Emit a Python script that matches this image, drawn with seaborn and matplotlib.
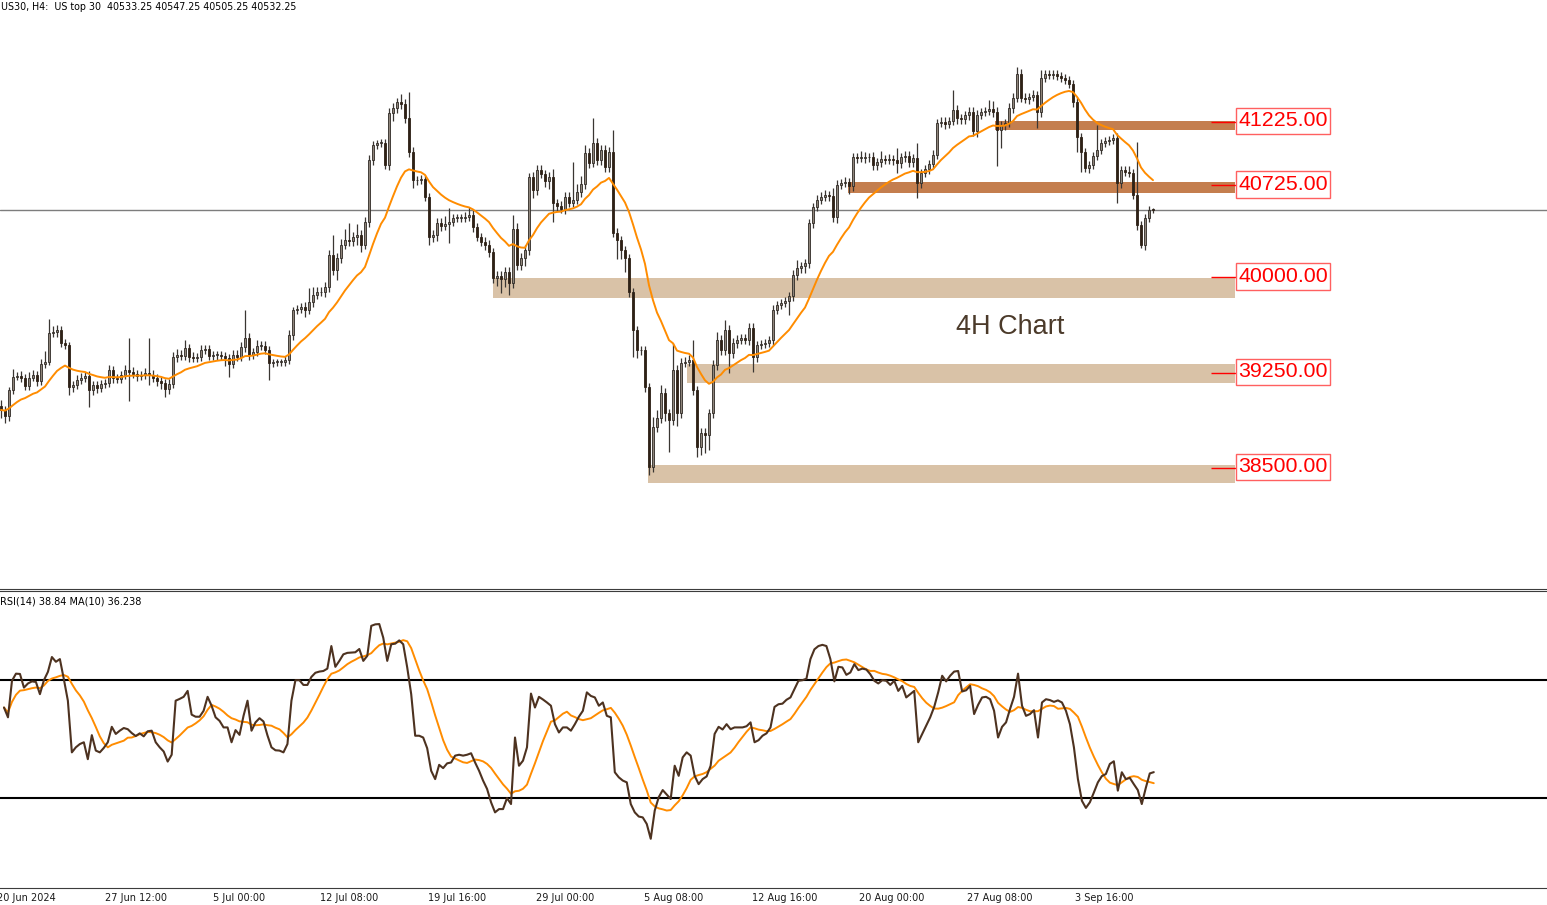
import numpy as np
import pandas as pd
import matplotlib
matplotlib.use("Agg")
import matplotlib.pyplot as plt
import matplotlib.transforms as mtransforms
from matplotlib.patches import Rectangle
from matplotlib import font_manager
import seaborn as sns

# ---------------- data (US30, H4) ----------------
closes = [
    38955, 38908, 39112, 39215, 39223, 39207, 39144, 39207, 39231, 39183,
    39317, 39333, 39561, 39569, 39585, 39483, 39467, 39136, 39152, 39191,
    39207, 39223, 39112, 39152, 39128, 39160, 39167, 39270, 39207, 39199,
    39231, 39270, 39254, 39238, 39223, 39231, 39246, 39231, 39207, 39183,
    39167, 39120, 39160, 39372, 39388, 39380, 39443, 39372, 39364, 39372,
    39427, 39435, 39380, 39388, 39388, 39380, 39364, 39317, 39388, 39372,
    39451, 39522, 39388, 39412, 39459, 39459, 39427, 39325, 39333, 39333,
    39333, 39349, 39546, 39742, 39750, 39766, 39742, 39805, 39861, 39884,
    39884, 39924, 40176, 40057, 40152, 40254, 40294, 40286, 40317, 40333,
    40254, 40436, 40924, 41042, 41058, 41058, 40884, 41294, 41333, 41381,
    41365, 41255, 40987, 40766, 40766, 40774, 40632, 40317, 40333, 40428,
    40404, 40420, 40436, 40467, 40467, 40467, 40475, 40491, 40396, 40317,
    40278, 40254, 40199, 39994, 40010, 39987, 40042, 39955, 40380, 40097,
    40152, 40215, 40790, 40688, 40845, 40814, 40758, 40790, 40585, 40562,
    40538, 40632, 40585, 40609, 40672, 40735, 40979, 40900, 41058, 40924,
    41003, 40869, 40987, 40349, 40294, 40215, 40152, 39884, 39585, 39427,
    39427, 39136, 38506, 38821, 38892, 39089, 38931, 38876, 39270, 38931,
    39325, 39333, 39349, 39112, 38663, 38774, 38758, 38931, 39309, 39506,
    39427, 39585, 39404, 39483, 39506, 39522, 39506, 39601, 39372, 39467,
    39475, 39483, 39506, 39742, 39782, 39798, 39813, 39853, 40018, 40073,
    40089, 40113, 40428, 40554, 40609, 40632, 40648, 40640, 40475, 40727,
    40743, 40751, 40719, 40947, 40940, 40940, 40947, 40947, 40884, 40908,
    40932, 40924, 40932, 40924, 40900, 40947, 40955, 40908, 40940, 40743,
    40821, 40853, 40892, 40963, 41215, 41223, 41207, 41231, 41318, 41255,
    41247, 41278, 41302, 41152, 41278, 41302, 41310, 41326, 41302, 41160,
    41200, 41215, 41333, 41412, 41601, 41412, 41404, 41420, 41436, 41302,
    41570, 41601, 41593, 41601, 41585, 41570, 41554, 41522, 41381, 41105,
    40987, 40861, 40884, 40955, 41003, 41058, 41074, 41081, 41097, 40743,
    40845, 40829, 40821, 40648, 40412, 40254, 40467, 40533.25, 40532.25,
]
first_open = 38990

upper_wick = [
    40, 30, 25, 60, 35, 40, 30, 45, 40, 30,
    40, 90, 110, 50, 40, 30, 30, 20, 30, 40,
    40, 30, 40, 30, 35, 30, 30, 40, 30, 30,
    30, 40, 250, 40, 35, 30, 40, 275, 35, 30,
    30, 30, 40, 40, 50, 40, 60, 35, 40, 30,
    40, 35, 30, 30, 35, 30, 30, 30, 40, 40,
    40, 220, 40, 35, 50, 40, 40, 30, 20, 20,
    20, 30, 40, 25, 30, 30, 40, 110, 60, 40,
    40, 40, 40, 160, 40, 50, 90, 135, 40, 90,
    40, 35, 40, 30, 25, 30, 30, 40, 40, 30,
    60, 40, 205, 40, 30, 30, 30, 30, 40, 40,
    40, 60, 110, 30, 30, 30, 40, 65, 40, 30,
    30, 40, 40, 30, 40, 40, 40, 40, 110, 50,
    40, 40, 30, 40, 40, 40, 30, 40, 60, 30,
    40, 40, 40, 300, 60, 60, 60, 40, 200, 40,
    40, 40, 40, 175, 40, 30, 30, 30, 30, 30,
    30, 30, 30, 80, 60, 60, 40, 30, 210, 40,
    40, 40, 40, 160, 30, 40, 40, 30, 40, 60,
    40, 80, 40, 40, 40, 30, 30, 40, 40, 30,
    30, 30, 30, 40, 30, 30, 30, 30, 40, 60,
    30, 30, 30, 30, 40, 40, 40, 30, 60, 40,
    30, 40, 30, 30, 30, 55, 40, 30, 40, 30,
    60, 30, 40, 30, 95, 30, 40, 40, 30, 120,
    30, 30, 30, 40, 30, 40, 40, 30, 160, 40,
    30, 30, 40, 40, 40, 30, 30, 70, 60, 40,
    30, 30, 40, 40, 55, 40, 40, 30, 40, 30,
    60, 30, 30, 30, 30, 30, 30, 30, 30, 40,
    30, 30, 30, 30, 200, 30, 30, 30, 30, 40,
    30, 30, 50, 30, 420, 30, 30, 30, 14,
]
lower_wick = [
    60, 55, 40, 30, 25, 30, 35, 30, 25, 40,
    30, 30, 25, 30, 40, 30, 30, 60, 40, 35,
    30, 35, 135, 40, 40, 35, 30, 30, 40, 30,
    30, 35, 230, 35, 40, 30, 30, 80, 35, 40,
    45, 60, 40, 30, 40, 35, 30, 40, 35, 30,
    30, 30, 35, 30, 40, 30, 60, 100, 30, 35,
    30, 40, 40, 35, 30, 30, 30, 135, 30, 30,
    30, 30, 30, 40, 30, 30, 55, 30, 40, 30,
    30, 40, 40, 40, 80, 40, 30, 40, 40, 60,
    55, 30, 40, 40, 30, 30, 30, 40, 60, 40,
    40, 40, 40, 60, 40, 30, 30, 65, 40, 50,
    40, 30, 150, 30, 30, 30, 30, 30, 40, 35,
    30, 40, 40, 40, 60, 110, 60, 95, 40, 40,
    40, 60, 40, 60, 40, 30, 50, 60, 150, 40,
    30, 40, 30, 30, 30, 40, 40, 40, 30, 40,
    40, 40, 40, 30, 150, 70, 110, 40, 210, 60,
    40, 40, 60, 40, 40, 40, 60, 250, 40, 100,
    40, 30, 30, 40, 80, 60, 140, 120, 40, 40,
    40, 40, 160, 40, 40, 30, 30, 40, 120, 40,
    30, 30, 30, 40, 30, 30, 30, 110, 40, 40,
    40, 55, 40, 40, 30, 30, 30, 40, 40, 50,
    30, 30, 60, 40, 40, 30, 40, 40, 40, 40,
    40, 30, 30, 40, 80, 40, 40, 40, 40, 120,
    40, 30, 40, 30, 30, 30, 40, 30, 30, 50,
    40, 40, 40, 40, 50, 30, 30, 30, 40, 280,
    140, 40, 30, 40, 30, 30, 30, 40, 30, 125,
    40, 30, 30, 30, 30, 30, 30, 30, 40, 120,
    160, 30, 40, 30, 30, 30, 30, 30, 30, 160,
    40, 30, 30, 30, 40, 20, 40, 30, 27,
]

rsi14 = [
    60.6, 57.3, 69.6, 72.0, 71.9, 67.3, 68.7, 69.4, 69.2, 65.1,
    69.8, 72.6, 77.6, 76.0, 76.9, 70.1, 62.9, 45.5, 47.2, 48.3,
    48.9, 43.2, 51.3, 46.1, 45.5, 47.0, 48.9, 54.1, 51.7, 52.8,
    53.7, 53.3, 52.0, 51.0, 51.9, 50.9, 52.6, 52.8, 48.9, 47.2,
    45.8, 42.4, 44.7, 62.9, 63.5, 64.2, 66.2, 58.2, 57.5, 57.5,
    59.5, 64.2, 61.2, 57.3, 56.1, 53.9, 53.9, 48.9, 53.0, 51.4,
    57.8, 62.9, 52.8, 55.6, 57.0, 55.9, 51.2, 47.2, 46.2, 46.1,
    45.5, 48.3, 62.9, 69.8, 69.8, 68.2, 68.2, 70.9, 72.3, 72.7,
    72.9, 73.7, 81.3, 74.3, 76.3, 78.5, 79.0, 79.1, 79.2, 80.3,
    76.3, 78.0, 88.1, 88.6, 88.7, 84.1, 76.3, 81.9, 82.1, 83.2,
    81.9, 74.1, 65.1, 51.1, 51.1, 50.5, 46.9, 39.3, 36.5, 41.3,
    40.2, 41.8, 42.1, 44.4, 44.7, 44.4, 44.7, 45.2, 42.1, 39.3,
    36.0, 33.2, 28.7, 25.3, 26.4, 26.4, 30.1, 28.1, 50.5, 41.0,
    42.7, 47.2, 65.3, 60.6, 64.2, 63.3, 62.3, 61.2, 55.0, 52.2,
    53.9, 53.9, 52.8, 55.0, 57.5, 59.5, 65.7, 64.5, 64.0, 61.2,
    62.3, 57.8, 57.3, 38.8, 37.1, 36.0, 35.4, 28.1, 25.3, 23.9,
    23.6, 21.4, 16.4, 25.9, 30.4, 32.8, 31.3, 29.8, 41.0, 37.6,
    43.8, 45.5, 44.4, 37.6, 34.8, 36.5, 37.4, 41.0, 51.7, 54.1,
    53.2, 55.0, 53.3, 53.9, 53.9, 53.9, 54.3, 55.6, 48.9, 49.6,
    51.1, 51.9, 53.9, 60.8, 61.7, 61.9, 63.2, 64.0, 66.8, 69.6,
    69.8, 70.3, 76.9, 80.2, 81.3, 81.7, 81.3, 76.9, 69.4, 74.3,
    74.1, 71.6, 72.4, 75.2, 73.2, 73.7, 73.4, 71.8, 69.6, 68.7,
    69.8, 69.6, 68.2, 69.6, 66.2, 67.9, 64.0, 65.1, 66.2, 48.9,
    51.7, 54.5, 57.3, 60.8, 65.7, 71.3, 69.4, 71.3, 72.7, 72.9,
    66.0, 66.4, 67.9, 58.4, 61.5, 64.0, 64.2, 63.4, 59.5, 50.5,
    54.1, 55.6, 60.1, 64.2, 72.0, 61.2, 57.8, 58.4, 59.7, 50.5,
    62.3, 63.4, 63.1, 62.5, 63.0, 62.3, 59.5, 55.0, 47.2, 36.5,
    29.2, 26.8, 28.7, 32.0, 35.4, 37.5, 38.2, 41.6, 42.5, 32.6,
    38.8, 36.5, 36.9, 34.8, 32.8, 28.1, 33.5, 38.4, 38.84,
]

date_labels = ["20 Jun 2024", "27 Jun 12:00", "5 Jul 00:00", "12 Jul 08:00",
               "19 Jul 16:00", "29 Jul 00:00", "5 Aug 08:00", "12 Aug 16:00",
               "20 Aug 00:00", "27 Aug 08:00", "3 Sep 16:00"]
date_bars = [-1, 26, 53, 80, 107, 134, 161, 188, 215, 242, 269]

level_values = [41225.0, 40725.0, 40000.0, 39250.0, 38500.0]
zone_low = [41160, 40664, 39837, 39167, 38380]
zone_high = [41232, 40751, 39994, 39317, 38522]
zone_start = [248.5, 211.75, 123.0, 171.5, 161.75]
zone_kind = ["dark", "dark", "light", "light", "light"]

current_price = 40532.25
title_text = "US30, H4:  US top 30  40533.25 40547.25 40505.25 40532.25"
rsi_text = "RSI(14) 38.84 MA(10) 36.238"

assert len(closes) == len(upper_wick) == len(lower_wick) == len(rsi14)

# ---------------- derived frame ----------------
n = len(closes)
df = pd.DataFrame({"bar": np.arange(n), "close": closes})
df["open"] = [first_open] + closes[:-1]
df["high"] = np.maximum(df["open"], df["close"]) + np.array(upper_wick)
df["low"] = np.minimum(df["open"], df["close"]) - np.array(lower_wick)
df["ma"] = df["close"].ewm(span=18, adjust=False).mean()
df["rsi"] = rsi14
df["rsi_ma"] = df["rsi"].rolling(10, min_periods=1).mean()

# ---------------- style ----------------
sns.set_style("white")
plt.rcParams["font.family"] = ["DejaVu Sans"]
avail = {f.name for f in font_manager.fontManager.ttflist}
if "Liberation Sans Narrow" in avail:
    label_font, label_size = "Liberation Sans Narrow", 18.7
else:
    label_font, label_size = "Liberation Sans", 15.4
big_font = "Liberation Sans" if "Liberation Sans" in avail else "DejaVu Sans"

W, H = 1547, 905
fig = plt.figure(figsize=(W / 100, H / 100), dpi=100)
fig.patch.set_facecolor("white")
ax = fig.add_axes([0, (H - 589) / H, 1, 589 / H])
ax2 = fig.add_axes([0, 17.5 / H, 1, 297 / H])

xlim = (-0.25, -0.25 + W / 4)
for a in (ax, ax2):
    a.set_xlim(*xlim)
    a.set_facecolor("white")
    a.set_yticks([])
    for s in ("left", "right"):
        a.spines[s].set_visible(False)
ax.set_ylim(37545, 42184)
ax.spines["top"].set_visible(False)
ax.spines["bottom"].set_color("#3c3c3c")
ax.set_xticks([])
ax2.set_ylim(0, 100)
ax2.spines["top"].set_color("#3c3c3c")
ax2.spines["bottom"].set_color("#3c3c3c")

# ---------------- zones ----------------
zone_end = 308.5
zcolors = {"dark": "#c47e4e", "light": "#d9c2a7"}
for lo, hi, x0, kind in zip(zone_low, zone_high, zone_start, zone_kind):
    ax.fill_between([x0, zone_end], lo, hi, color=zcolors[kind], lw=0, zorder=1)

ax.axhline(current_price, color="#7d7d7d", lw=1.0, zorder=1.5)

# ---------------- candles ----------------
bull = df["close"] >= df["open"]
ax.vlines(df["bar"], df["low"], df["high"], color="#3a3632", lw=0.9, zorder=2)
body_h = (df["close"] - df["open"]).abs().clip(lower=4)
body_b = np.minimum(df["open"], df["close"])
ax.bar(df["bar"][bull], body_h[bull], bottom=body_b[bull], width=0.72,
       color="#8f857b", edgecolor="#2f2a25", linewidth=0.6, zorder=2.5)
ax.bar(df["bar"][~bull], body_h[~bull], bottom=body_b[~bull], width=0.72,
       color="#2e2116", edgecolor="#2e2116", linewidth=0.6, zorder=2.5)

sns.lineplot(data=df, x="bar", y="ma", ax=ax, color="#ff8c00", lw=1.4,
             zorder=3, legend=False)
ax.set_xlabel("")
ax.set_ylabel("")

# ---------------- level labels ----------------
px = 7.876  # price units per pixel
for lv in level_values:
    ax.hlines(lv, 302.5, 308.75, color="red", lw=1.0, zorder=4)
    ax.add_patch(Rectangle((308.75, lv - 12.5 * px), 23.5, 26.5 * px,
                           facecolor="white", edgecolor="#ff6060", lw=1.0,
                           zorder=4))
    ax.text(320.5, lv + 0.8 * px, f"{lv:.2f}", ha="center", va="center",
            color="red", fontsize=label_size, family=[label_font, "DejaVu Sans"],
            zorder=5)

ax.text(1010 / W, 1 - 327 / 589, "4H Chart", transform=ax.transAxes,
        ha="center", va="center", fontsize=19.5, color="#4b3a2a",
        family=[big_font, "DejaVu Sans"])

# ---------------- RSI ----------------
ax2.axhline(70, color="black", lw=1.5, zorder=1)
ax2.axhline(30, color="black", lw=1.5, zorder=1)
sns.lineplot(data=df, x="bar", y="rsi", ax=ax2, color="#4d3220", lw=1.5,
             zorder=3, legend=False)
sns.lineplot(data=df, x="bar", y="rsi_ma", ax=ax2, color="#ff8c00", lw=1.4,
             zorder=2, legend=False)
ax2.set_xlabel("")
ax2.set_ylabel("")
ax2.set_yticks([])

ax2.set_xticks(date_bars)
ax2.set_xticklabels(date_labels, fontsize=7, color="#1a1a1a")
ax2.tick_params(axis="x", direction="out", length=4, width=0.8,
                color="#3c3c3c", pad=0)
offset = mtransforms.ScaledTranslation(-3 / 100, 0, fig.dpi_scale_trans)
for lab in ax2.get_xticklabels():
    lab.set_horizontalalignment("left")
    lab.set_transform(lab.get_transform() + offset)

fig.text(1 / W, 1 - 7 / H, title_text, ha="left", va="center", fontsize=6.85,
         color="black")
fig.text(0.5 / W, 1 - 601 / H, rsi_text, ha="left", va="center", fontsize=7,
         color="black")

fig.savefig("out.png", dpi=100, facecolor="white")
